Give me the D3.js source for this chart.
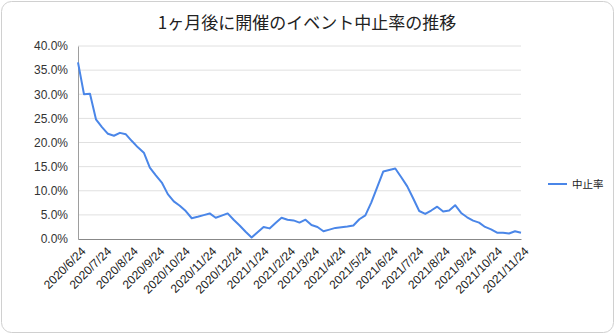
<!DOCTYPE html>
<html>
<head>
<meta charset="utf-8">
<script src="https://cdn.jsdelivr.net/npm/d3@7"></script>
<style>
  html, body { margin: 0; padding: 0; background: #fff; }
  svg { display: block; font-family: Arial, "Liberation Sans", "Noto Sans CJK JP", sans-serif; }
</style>
</head>
<body>
<svg id="chart" width="615" height="334"></svg>
<script>
// Weekly cancellation rate (%) for events one month ahead, from 2020/6/24 to 2021/11/24
const startDate = "2020-06-24";
const endDate = "2021-11-24";
const cancelRate = [
  36.6, 30.0, 30.1, 24.8, 23.2, 21.8, 21.4, 22.0, 21.7, 20.3,
  19.0, 17.9, 14.8, 13.2, 11.7, 9.3, 7.8, 6.9, 5.8, 4.3,
  4.6, 4.95, 5.3, 4.4, 4.85, 5.3, 4.0, 2.8, 1.5, 0.3,
  1.4, 2.5, 2.2, 3.3, 4.4, 4.0, 3.85, 3.4, 4.0, 2.9,
  2.5, 1.6, 1.95, 2.3, 2.45, 2.6, 2.8, 4.1, 4.9, 7.6,
  10.8, 14.0, 14.3, 14.6, 12.8, 10.9, 8.4, 5.8, 5.2, 5.9,
  6.7, 5.7, 5.9, 7.0, 5.4, 4.5, 3.8, 3.4, 2.5, 2.0,
  1.3, 1.3, 1.15, 1.6, 1.3
];
const yTicks = [0, 5, 10, 15, 20, 25, 30, 35, 40];
const xTickLabels = [
  "2020/6/24", "2020/7/24", "2020/8/24", "2020/9/24", "2020/10/24", "2020/11/24",
  "2020/12/24", "2021/1/24", "2021/2/24", "2021/3/24", "2021/4/24", "2021/5/24",
  "2021/6/24", "2021/7/24", "2021/8/24", "2021/9/24", "2021/10/24", "2021/11/24"
];
const title = "1ヶ月後に開催のイベント中止率の推移";
const seriesName = "中止率";

const parse = d3.timeParse("%Y/%m/%d");
const parseIso = d3.timeParse("%Y-%m-%d");
const t0 = parseIso(startDate);
const data = cancelRate.map((v, i) => ({ date: d3.timeDay.offset(t0, i * 7), value: v }));

const svg = d3.select("#chart");
const W = 615, H = 334;
const plot = { left: 78, right: 521, top: 46, bottom: 239 };

// card frame
svg.append("rect")
  .attr("x", 1.5).attr("y", 1.5)
  .attr("width", W - 3).attr("height", H - 3)
  .attr("rx", 10).attr("ry", 10)
  .attr("fill", "#fff").attr("stroke", "#d0d0d0").attr("stroke-width", 1);

svg.append("text")
  .attr("x", 307).attr("y", 29)
  .attr("text-anchor", "middle")
  .attr("font-family", "'Noto Sans CJK JP', sans-serif")
  .attr("font-size", 17)
  .attr("fill", "#222")
  .text(title);

const x = d3.scaleTime()
  .domain([t0, parseIso(endDate)])
  .range([plot.left, plot.right]);
const y = d3.scaleLinear()
  .domain([0, 40])
  .range([plot.bottom, plot.top]);

// horizontal gridlines
svg.append("g")
  .selectAll("line")
  .data(yTicks.filter(d => d > 0))
  .join("line")
  .attr("x1", plot.left).attr("x2", plot.right)
  .attr("y1", d => y(d)).attr("y2", d => y(d))
  .attr("stroke", "#e0e0e0").attr("stroke-width", 1);

// y axis labels
const yAxis = d3.axisLeft(y)
  .tickValues(yTicks)
  .tickSize(0)
  .tickPadding(10)
  .tickFormat(d => d.toFixed(1) + "%");
const gy = svg.append("g")
  .attr("transform", `translate(${plot.left},0)`)
  .call(yAxis);
gy.select(".domain").attr("stroke", "#9e9e9e");
gy.selectAll("text").attr("font-size", 12).attr("fill", "#333")
  .attr("font-family", "Arial, 'Liberation Sans', sans-serif");

// x axis with monthly labels
const xTickDates = xTickLabels.map(s => parse(s));
const xAxis = d3.axisBottom(x)
  .tickValues(xTickDates)
  .tickSize(0)
  .tickFormat((d, i) => xTickLabels[i]);
const gx = svg.append("g")
  .attr("transform", `translate(0,${plot.bottom})`)
  .call(xAxis);
gx.select(".domain").attr("stroke", "#888");
gx.selectAll("text")
  .attr("font-size", 12)
  .attr("fill", "#222")
  .attr("font-family", "Arial, 'Liberation Sans', sans-serif")
  .attr("text-anchor", "end")
  .attr("dy", "0.35em")
  .attr("transform", "translate(5,10) rotate(-45)")
  .attr("y", 0).attr("x", 0);

// series line
const line = d3.line()
  .x(d => x(d.date))
  .y(d => y(d.value));
svg.append("path")
  .datum(data)
  .attr("d", line)
  .attr("fill", "none")
  .attr("stroke", "#4a86e8")
  .attr("stroke-width", 2)
  .attr("stroke-linejoin", "round");

// legend
const lg = svg.append("g").attr("transform", "translate(548,184)");
lg.append("line").attr("x1", 0).attr("x2", 19).attr("y1", 0).attr("y2", 0)
  .attr("stroke", "#4a86e8").attr("stroke-width", 2);
lg.append("text").attr("x", 24).attr("y", 0).attr("dy", "0.35em")
  .attr("font-family", "'Noto Sans CJK JP', sans-serif")
  .attr("font-size", 10.5).attr("fill", "#222")
  .text(seriesName);
</script>
</body>
</html>
